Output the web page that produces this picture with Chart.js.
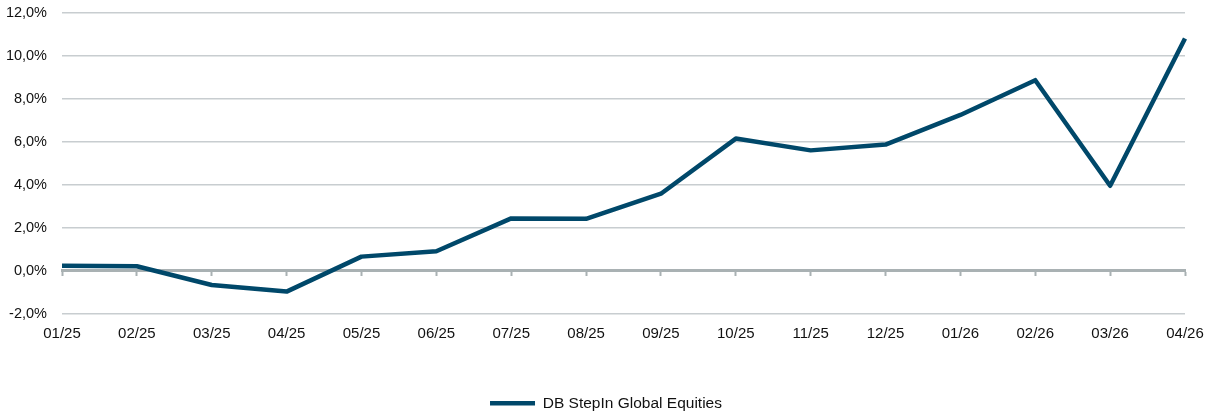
<!DOCTYPE html>
<html><head><meta charset="utf-8">
<script src="https://cdn.jsdelivr.net/npm/chart.js@4/dist/chart.umd.min.js"></script>
<style>html,body{margin:0;padding:0;background:#fff}#w{width:1212px;height:412px}</style>
</head><body><div id="w"><canvas id="c"></canvas></div>
<script>
const categories = ['01/25','02/25','03/25','04/25','05/25','06/25','07/25','08/25','09/25','10/25','11/25','12/25','01/26','02/26','03/26','04/26'];
const seriesName = 'DB StepIn Global Equities';
const seriesValues = [0.23, 0.2, -0.67, -0.98, 0.65, 0.9, 2.43, 2.41, 3.58, 6.15, 5.6, 5.87, 7.25, 8.87, 3.95, 10.81];
const yTicks = [-2, 0, 2, 4, 6, 8, 10, 12];

const LINE = '#00486a';
const GRID = '#c8cdd0';
const ZERO = '#a9b1b3';
const fmt = v => v.toFixed(1).replace('.', ',') + '%';

new Chart(document.getElementById('c'), {
  type: 'line',
  data: {
    labels: categories,
    datasets: [{
      label: seriesName,
      data: seriesValues,
      borderColor: LINE,
      backgroundColor: LINE,
      borderWidth: 4.5,
      pointRadius: 0,
      tension: 0,
      borderJoinStyle: 'round',
      borderCapStyle: 'butt',
      xAxisID: 'x'
    }]
  },
  options: {
    responsive: true,
    maintainAspectRatio: false,
    animation: false,
    layout: { padding: { top: 13, right: 0, left: 0, bottom: -9 } },
    plugins: {
      tooltip: { enabled: false },
      legend: {
        position: 'bottom',
        labels: {
          usePointStyle: true,
          pointStyle: 'line',
          pointStyleWidth: 45,
          padding: 10,
          color: '#111',
          font: { family: 'Liberation Sans, Arial, sans-serif', size: 15.5 }
        }
      }
    },
    scales: {
      x: {
        type: 'category',
        position: 'bottom',
        offset: false,
        grid: { display: false },
        border: { display: false },
        ticks: { color: '#111', padding: 3, maxRotation: 0, autoSkip: false,
          font: { family: 'Liberation Sans, Arial, sans-serif', size: 15 } },
        afterFit: s => { s.height = 72; s.paddingRight = 27; }
      },
      x0: {
        type: 'category',
        position: { y: 0 },
        offset: false,
        grid: { display: true, drawOnChartArea: false, drawTicks: true, tickLength: 4, tickColor: ZERO, tickWidth: 2 },
        border: { display: true, color: ZERO, width: 3 },
        ticks: { display: false }
      },
      y: {
        min: -2, max: 12,
        afterBuildTicks: s => { s.ticks = yTicks.map(v => ({ value: v })); },
        grid: {
          drawTicks: false,
          color: c => c.tick && c.tick.value === 0 ? ZERO : GRID,
          lineWidth: c => c.tick && c.tick.value === 0 ? 3 : 1.5
        },
        border: { display: false },
        ticks: { color: '#111', padding: 15, callback: v => fmt(v),
          font: { family: 'Liberation Sans, Arial, sans-serif', size: 14.5 } },
        afterFit: s => { s.width = 62; s.paddingTop = 0; s.paddingBottom = 0; }
      }
    }
  }
});
</script>
</body></html>
